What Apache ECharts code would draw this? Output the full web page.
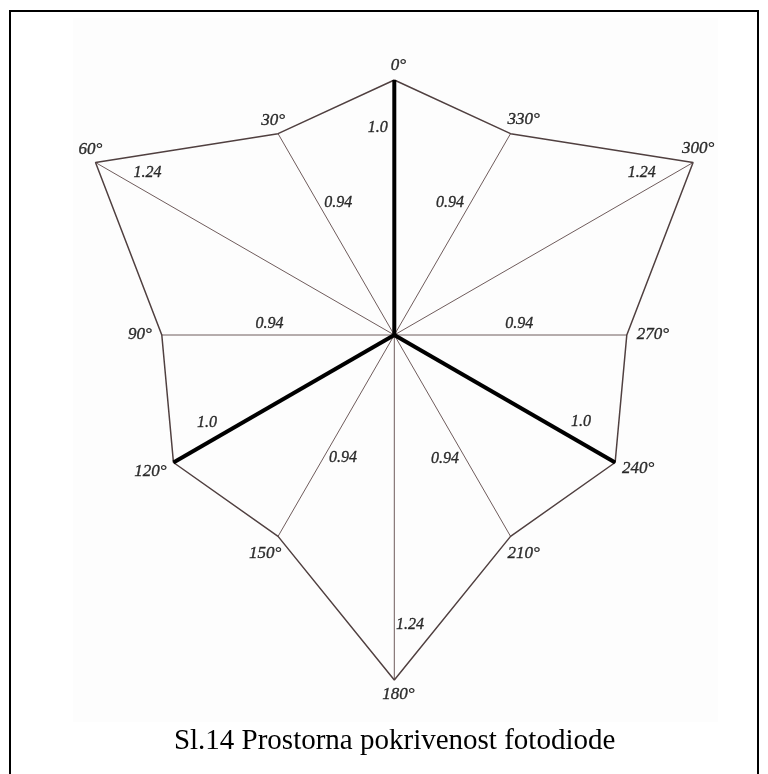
<!DOCTYPE html>
<html>
<head>
<meta charset="utf-8">
<script src="https://cdn.jsdelivr.net/npm/echarts@6/dist/echarts.min.js"></script>
<style>
html,body{margin:0;padding:0;background:#fff;}
#c{width:768px;height:774px;}
</style>
</head>
<body>
<div id="c"></div>
<script>
// ---- data ----
const angles = [0, 30, 60, 90, 120, 150, 180, 210, 240, 270, 300, 330];
const values = [1.0, 0.94, 1.24, 0.94, 1.0, 0.94, 1.24, 0.94, 1.0, 0.94, 1.24, 0.94];
const valueLabels = ['1.0', '0.94', '1.24', '0.94', '1.0', '0.94', '1.24', '0.94', '1.0', '0.94', '1.24', '0.94'];
const angleLabels = ['0°', '30°', '60°', '90°', '120°', '150°', '180°', '210°', '240°', '270°', '300°', '330°'];
const thickAngles = [0, 120, 240];
const caption = 'Sl.14 Prostorna pokrivenost fotodiode';

// ---- styling (positions of text relative to anchors) ----
const R_MIN = 0.32, R_MAX = 1.32;
const angleLabelOffsets = [[4,-14],[-5,-13],[-5,-13],[-22,0],[-23,9],[-13,17],[4,15],[13,17],[23,6],[26,0],[5,-14],[13,-14]];
const valueLabelOffsets = [[-16.6,-207.3],[-56,-132.7],[-246.8,-162.3],[-124.8,-11.5],[-187.3,87.5],[-51.3,123],
                           [15.7,290],[50.7,124],[186.7,86.7],[125,-11],[247.4,-162.3],[55.7,-132.7]];
const labelFont = {fontFamily: 'Liberation Serif', fontStyle: 'italic', color: '#000',
  textBorderColor: '#000', textBorderWidth: 0.35};

const chart = echarts.init(document.getElementById('c'), null, {renderer: 'canvas'});
const series = [];

angles.forEach((a, i) => {
  const thick = thickAngles.includes(a);
  series.push({
    type: 'line', coordinateSystem: 'polar', silent: true, symbol: 'none',
    z: thick ? 5 : 2,
    data: [[R_MIN, a], [values[i], a]],
    lineStyle: {color: thick ? '#000' : '#6f5c5c', width: thick ? 4 : 1}
  });
});

series.push({
  type: 'line', coordinateSystem: 'polar', silent: true, symbol: 'none', z: 3,
  data: angles.map((a, i) => [values[i], a]).concat([[values[0], angles[0]]]),
  lineStyle: {color: '#504040', width: 1.5}
});

series.push({
  type: 'scatter', coordinateSystem: 'polar', silent: true, symbol: 'circle', symbolSize: 1, z: 6,
  itemStyle: {color: 'transparent'},
  data: angles.map((a, i) => ({value: [values[i], a], label: {offset: angleLabelOffsets[i]}})),
  label: Object.assign({show: true, position: 'inside', fontSize: 17,
    formatter: p => angleLabels[p.dataIndex]}, labelFont)
});

series.push({
  type: 'scatter', coordinateSystem: 'polar', silent: true, symbol: 'circle', symbolSize: 1, z: 6,
  itemStyle: {color: 'transparent'},
  data: angles.map((a, i) => ({value: [R_MIN, a], label: {offset: valueLabelOffsets[i]}})),
  label: Object.assign({show: true, position: 'inside', fontSize: 16,
    formatter: p => valueLabels[p.dataIndex]}, labelFont)
});

chart.setOption({
  animation: false,
  backgroundColor: '#fff',
  polar: {center: [394.3, 335], radius: 375},
  angleAxis: {type: 'value', min: 0, max: 360, startAngle: 90, clockwise: false,
    axisLine: {show: false}, axisTick: {show: false}, axisLabel: {show: false}, splitLine: {show: false}},
  radiusAxis: {type: 'value', min: R_MIN, max: R_MAX,
    axisLine: {show: false}, axisTick: {show: false}, axisLabel: {show: false}, splitLine: {show: false}},
  graphic: [
    {type: 'rect', z: -10, shape: {x: 73, y: 18, width: 645, height: 704}, style: {fill: '#fdfdfd'}, silent: true},
    {type: 'rect', z: 100, shape: {x: 10, y: 11, width: 748, height: 790}, style: {fill: 'none', stroke: '#000', lineWidth: 2}, silent: true},
    {type: 'text', z: 100, x: 394.6, y: 741, style: {text: caption, fontFamily: 'Liberation Serif', fontSize: 29,
      fill: '#000', align: 'center', verticalAlign: 'middle'}, silent: true}
  ],
  series: series
});
</script>
</body>
</html>
